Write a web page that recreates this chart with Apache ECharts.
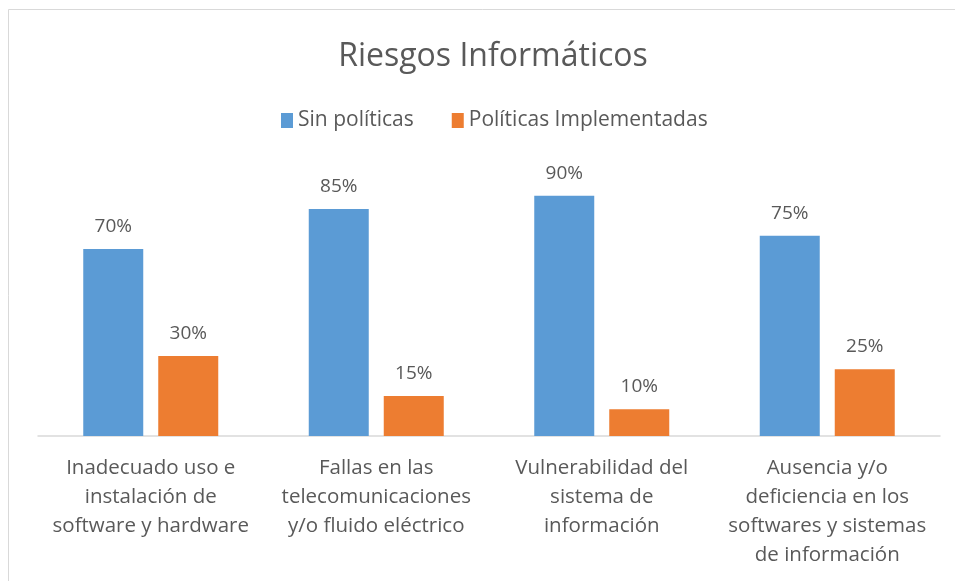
<!DOCTYPE html>
<html lang="es">
<head>
    <meta charset="UTF-8">
    <title>Riesgos Informáticos</title>
    <script src="https://cdn.jsdelivr.net/npm/echarts@6/dist/echarts.min.js"></script>
    <style>
        html, body { margin: 0; padding: 0; background: #fff; }
        #chart { width: 955px; height: 581px; }
    </style>
</head>
<body>
    <div id="chart"></div>
    <script>
        // datos
        var categorias = [
            'Inadecuado uso e\ninstalación de\nsoftware y hardware',
            'Fallas en las\ntelecomunicaciones\ny/o fluido eléctrico',
            'Vulnerabilidad del\nsistema de\ninformación',
            'Ausencia y/o\ndeficiencia en los\nsoftwares y sistemas\nde información'
        ];
        var sinPoliticas = [70, 85, 90, 75];
        var politicasImplementadas = [30, 15, 10, 25];

        var fuente = '"Open Sans", "Noto Sans", sans-serif';
        var gris = '#595959';

        var chart = echarts.init(document.getElementById('chart'));

        var etiqueta = {
            show: true,
            position: 'top',
            distance: 13,
            formatter: '{c}%',
            fontFamily: fuente,
            fontSize: 19,
            color: gris
        };

        var option = {
            backgroundColor: '#fff',
            textStyle: { fontFamily: fuente },
            title: {
                text: 'Riesgos Informáticos',
                left: 488,
                textAlign: 'center',
                top: 36,
                textStyle: { fontFamily: fuente, fontSize: 32, fontWeight: 'normal', color: gris }
            },
            legend: {
                top: 105,
                left: 276,
                itemWidth: 12,
                itemHeight: 15,
                itemGap: 38,
                icon: 'rect',
                textStyle: { fontFamily: fuente, fontSize: 21, color: gris },
                data: ['Sin políticas', 'Políticas Implementadas']
            },
            graphic: [{
                type: 'rect',
                shape: { x: 8.5, y: 9.5, width: 980, height: 600 },
                style: { fill: 'none', stroke: '#d9d9d9', lineWidth: 1 },
                silent: true
            }],
            grid: { left: 38, right: 15, top: 169, bottom: 145 },
            xAxis: {
                type: 'category',
                data: categorias,
                axisLine: { lineStyle: { color: '#d9d9d9', width: 1.5 } },
                axisTick: { show: false },
                axisLabel: {
                    interval: 0,
                    margin: 18,
                    fontFamily: fuente,
                    fontSize: 20.5,
                    lineHeight: 29,
                    color: gris
                }
            },
            yAxis: {
                type: 'value',
                min: 0,
                max: 100,
                show: false,
                splitLine: { show: false }
            },
            series: [{
                name: 'Sin políticas',
                type: 'bar',
                data: sinPoliticas,
                barWidth: 60,
                barGap: '25%',
                itemStyle: { color: '#5B9BD5' },
                label: etiqueta
            }, {
                name: 'Políticas Implementadas',
                type: 'bar',
                data: politicasImplementadas,
                barWidth: 60,
                itemStyle: { color: '#ED7D31' },
                label: etiqueta
            }]
        };

        chart.setOption(option);
    </script>
</body>
</html>
